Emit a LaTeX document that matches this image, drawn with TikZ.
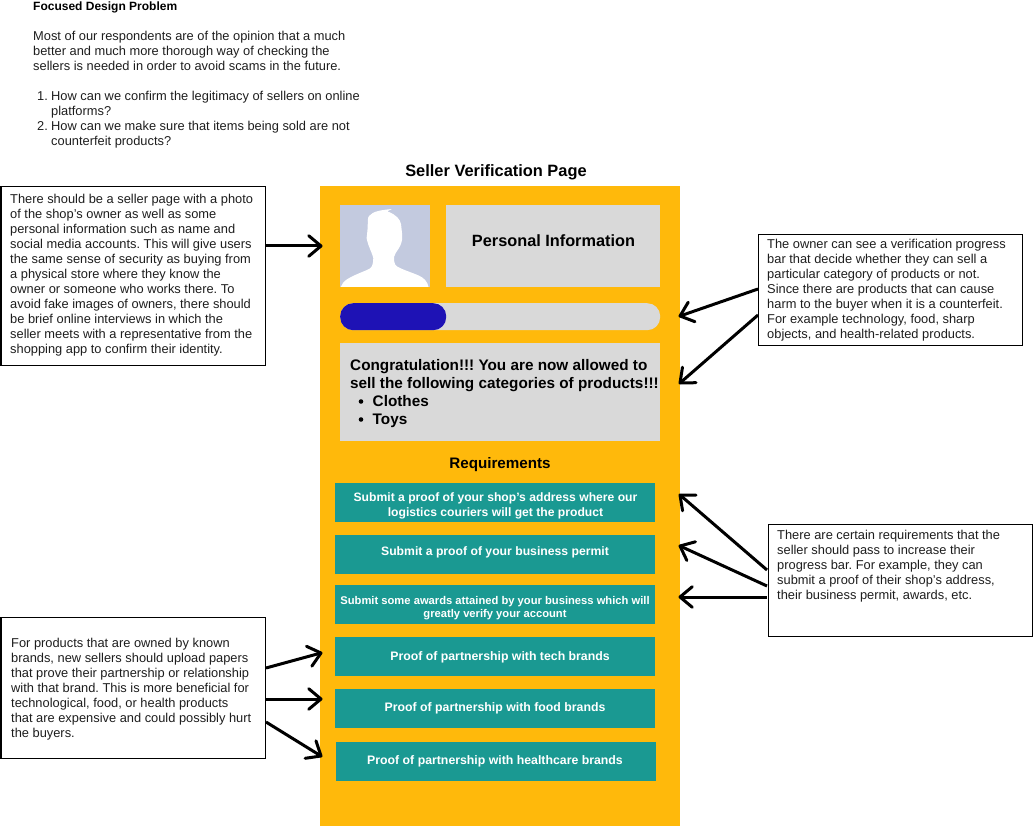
\documentclass[tikz,border=0pt]{standalone}
\usepackage{fontspec}
\setmainfont{Liberation Sans}
\usetikzlibrary{calc}
\definecolor{orangebg}{HTML}{FFB90B}
\definecolor{panel}{HTML}{D9D9D9}
\definecolor{teal2}{HTML}{1A9992}
\definecolor{barblue}{HTML}{1E12B5}
\definecolor{photo}{HTML}{C3CADF}
\definecolor{ink}{HTML}{1E1E1E}
\tikzset{
 x=1pt,y=-1pt,
 note/.style={draw=black,line width=1.2pt,fill=white,anchor=north west,inner sep=0pt},
 body/.style={anchor=north west,inner sep=0pt,align=left,text=ink,font=\fontsize{12.85}{15}\selectfont},
 flat/.style={fill=#1,anchor=north west,inner sep=0pt},
 btn/.style={fill=teal2,anchor=north west,inner sep=0pt,minimum width=320pt,minimum height=39pt,align=center,text=white,font=\fontsize{12.3}{15.5}\selectfont\bfseries},
 btntext/.style={inner sep=0pt,align=center,text=white},
 head/.style={inner sep=0pt,text=black,font=\bfseries},
 callout/.style={line width=3pt,black,line cap=round,line join=round},
}
\begin{document}
\frenchspacing
\begin{tikzpicture}
\useasboundingbox (0,0) rectangle (1033,826);
% intro
\node[body,font=\fontsize{12}{15}\selectfont\bfseries,text=black] (introhead) at (33,2) {Focused Design Problem};
\node[body] (intro) at (33,31) {Most of our respondents are of the opinion that a much\\better and much more thorough way of checking the\\sellers is needed in order to avoid scams in the future.};
\node[body] (q1n) at (37,91) {1.};
\node[body] (q1) at (51,91) {How can we confirm the legitimacy of sellers on online\\platforms?};
\node[body] (q2n) at (37,121) {2.};
\node[body] (q2) at (51,121) {How can we make sure that items being sold are not\\counterfeit products?};
% page
\node[head,font=\fontsize{16.4}{18}\selectfont\bfseries] (title) at (496,172) {Seller Verification Page};
\node[flat=orangebg,minimum width=360pt,minimum height=640pt] (page) at (320,186) {};
\node[flat=photo,minimum width=90pt,minimum height=82pt] (photo) at (340,205) {};
\fill[white] (340.7,287) .. controls (343,280) and (350,277) .. (367,270)
 .. controls (372,268) and (373,266) .. (373.3,258)
 .. controls (371,250) and (369,248) .. (367,240)
 .. controls (366,238) and (367,238) .. (367,235)
 .. controls (368.5,222) and (367,218) .. (369,216)
 .. controls (373,211) and (382,210) .. (392,209)
 .. controls (388,211) and (386,211.5) .. (389,212)
 .. controls (396,215) and (400,219) .. (401,224)
 .. controls (402,233) and (402.5,236) .. (402,240)
 .. controls (400,250) and (396,250) .. (394,257)
 .. controls (394,264) and (395,266) .. (400,268)
 .. controls (415,275) and (426,275) .. (428.5,287) -- cycle;
\node[flat=panel,minimum width=214pt,minimum height=82pt] (info) at (446,205) {};
\node[head,font=\fontsize{16.3}{18}\selectfont\bfseries] (infolabel) at (553.5,241) {Personal Information};
\node[flat=panel,rounded corners=13pt,minimum width=320pt,minimum height=27pt] (track) at (340,303) {};
\node[flat=barblue,rounded corners=13pt,minimum width=106pt,minimum height=27pt] (bar) at (340,303) {};
\node[flat=panel,minimum width=320pt,minimum height=98pt] (congrats) at (340,343) {};
\node[body,text=black,font=\fontsize{15.3}{18}\selectfont\bfseries] (congtext) at (350,359) {Congratulation!!! You are now allowed to\\sell the following categories of products!!!};
\node[body,text=black,font=\fontsize{15.3}{18}\selectfont\bfseries] (cat) at (372.500,395) {Clothes\\Toys};
\fill (361,401.500) circle (2.3pt) (361,419.500) circle (2.3pt);
\node[head,font=\fontsize{15.2}{16}\selectfont\bfseries] (req) at (500,464.500) {Requirements};
\node[btn] (b1) at (335,483) {};
\node[btntext,font=\fontsize{12.15}{15}\selectfont\bfseries] (b1t) at (495.500,505.500) {Submit a proof of your shop's address where our\\logistics couriers will get the product};
\node[btn] (b2) at (335,535) {};
\node[btntext,font=\fontsize{12.2}{15}\selectfont\bfseries] (b2t) at (495,552) {Submit a proof of your business permit};
\node[btn] (b3) at (335,585) {};
\node[btntext,font=\fontsize{11.2}{13}\selectfont\bfseries] (b3t) at (495,608) {Submit some awards attained by your business which will\\greatly verify your account};
\node[btn] (b4) at (335,637) {};
\node[btntext,font=\fontsize{12.3}{15}\selectfont\bfseries] (b4t) at (500,657) {Proof of partnership with tech brands};
\node[btn] (b5) at (335,689) {};
\node[btntext,font=\fontsize{12.3}{15}\selectfont\bfseries] (b5t) at (495,708) {Proof of partnership with food brands};
\node[btn] (b6) at (336,742) {};
\node[btntext,font=\fontsize{12.3}{15}\selectfont\bfseries] (b6t) at (495,761) {Proof of partnership with healthcare brands};
% notes
\node[note,minimum width=264.500pt,minimum height=179pt] (n1) at (0.500,186) {};
\node[body] (n1t) at (10,194) {There should be a seller page with a photo\\of the shop's owner as well as some\\personal information such as name and\\social media accounts. This will give users\\the same sense of security as buying from\\a physical store where they know the\\owner or someone who works there. To\\avoid fake images of owners, there should\\be brief online interviews in which the\\seller meets with a representative from the\\shopping app to confirm their identity.};
\node[note,minimum width=264pt,minimum height=111pt] (n2) at (757.500,234) {};
\node[body] (n2t) at (767,239) {The owner can see a verification progress\\bar that decide whether they can sell a\\particular category of products or not.\\Since there are products that can cause\\harm to the buyer when it is a counterfeit.\\For example technology, food, sharp\\objects, and health-related products.};
\node[note,minimum width=264.500pt,minimum height=112pt] (n3) at (767.500,524) {};
\node[body] (n3t) at (777,530) {There are certain requirements that the\\seller should pass to increase their\\progress bar. For example, they can\\submit a proof of their shop's address,\\their business permit, awards, etc.};
\node[note,minimum width=264.500pt,minimum height=141pt] (n4) at (0.500,617) {};
\node[body] (n4t) at (11,638) {For products that are owned by known\\brands, new sellers should upload papers\\that prove their partnership or relationship\\with that brand. This is more beneficial for\\technological, food, or health products\\that are expensive and could possibly hurt\\the buyers.};
% connector ends
\coordinate (a1s) at (266,246); \coordinate (a1e) at (321,246);
\coordinate (a2s) at (758,289); \coordinate (a2e) at (680,316);
\coordinate (a3s) at (758,315); \coordinate (a3e) at (680,383);
\coordinate (a4s) at (767,570); \coordinate (a4e) at (680,495);
\coordinate (a5s) at (767,586); \coordinate (a5e) at (680,546);
\coordinate (a6s) at (767,597); \coordinate (a6e) at (680,597);
\coordinate (a7s) at (266,668); \coordinate (a7e) at (321,653);
\coordinate (a8s) at (266,699); \coordinate (a8e) at (321,699);
\coordinate (a9s) at (266,722); \coordinate (a9e) at (321,756);
\foreach \i in {1,...,9}{
 \draw[callout,line cap=butt] (a\i s) -- (a\i e);
 \draw[callout] ($(a\i e)!16pt!40:(a\i s)$) -- (a\i e) -- ($(a\i e)!16pt!-40:(a\i s)$);
}
\end{tikzpicture}
\end{document}
